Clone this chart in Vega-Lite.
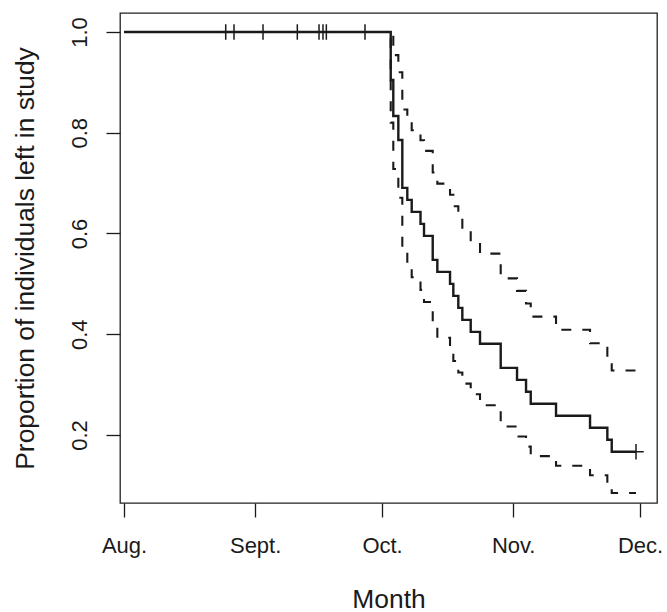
{
  "$schema": "https://vega.github.io/schema/vega-lite/v6.json",
  "width": 537,
  "height": 490,
  "autosize": {"type": "none"},
  "padding": {"left": 120, "top": 13, "right": 10, "bottom": 109},
  "background": "white",
  "datasets": {
    "curves": [
      {"series": "est", "day": 0, "value": 1},
      {"series": "est", "day": 63.05, "value": 0.9048},
      {"series": "est", "day": 63.66, "value": 0.8333},
      {"series": "est", "day": 64.85, "value": 0.7857},
      {"series": "est", "day": 65.79, "value": 0.6905},
      {"series": "est", "day": 66.97, "value": 0.6667},
      {"series": "est", "day": 68.01, "value": 0.6429},
      {"series": "est", "day": 70.09, "value": 0.619},
      {"series": "est", "day": 70.92, "value": 0.5952},
      {"series": "est", "day": 72.98, "value": 0.5476},
      {"series": "est", "day": 74.07, "value": 0.5238},
      {"series": "est", "day": 77.07, "value": 0.5},
      {"series": "est", "day": 77.85, "value": 0.4762},
      {"series": "est", "day": 79.03, "value": 0.4524},
      {"series": "est", "day": 79.98, "value": 0.4286},
      {"series": "est", "day": 81.96, "value": 0.4048},
      {"series": "est", "day": 84.16, "value": 0.381},
      {"series": "est", "day": 89.05, "value": 0.3333},
      {"series": "est", "day": 92.91, "value": 0.3095},
      {"series": "est", "day": 95.04, "value": 0.2857},
      {"series": "est", "day": 96.15, "value": 0.2619},
      {"series": "est", "day": 102.13, "value": 0.2381},
      {"series": "est", "day": 110.17, "value": 0.2143},
      {"series": "est", "day": 114.26, "value": 0.1905},
      {"series": "est", "day": 115.3, "value": 0.1667},
      {"series": "est", "day": 121.04, "value": 0.1667},
      {"series": "upper", "day": 0, "value": 1},
      {"series": "upper", "day": 63.05, "value": 0.998},
      {"series": "upper", "day": 63.66, "value": 0.954},
      {"series": "upper", "day": 64.85, "value": 0.92},
      {"series": "upper", "day": 65.79, "value": 0.846},
      {"series": "upper", "day": 66.97, "value": 0.826},
      {"series": "upper", "day": 68.01, "value": 0.805},
      {"series": "upper", "day": 70.09, "value": 0.785},
      {"series": "upper", "day": 70.92, "value": 0.764},
      {"series": "upper", "day": 72.98, "value": 0.721},
      {"series": "upper", "day": 74.07, "value": 0.699},
      {"series": "upper", "day": 77.07, "value": 0.677},
      {"series": "upper", "day": 77.85, "value": 0.654},
      {"series": "upper", "day": 79.03, "value": 0.631},
      {"series": "upper", "day": 79.98, "value": 0.608},
      {"series": "upper", "day": 81.96, "value": 0.584},
      {"series": "upper", "day": 84.16, "value": 0.56},
      {"series": "upper", "day": 89.05, "value": 0.511},
      {"series": "upper", "day": 92.91, "value": 0.486},
      {"series": "upper", "day": 95.04, "value": 0.461},
      {"series": "upper", "day": 96.15, "value": 0.435},
      {"series": "upper", "day": 102.13, "value": 0.409},
      {"series": "upper", "day": 110.17, "value": 0.382},
      {"series": "upper", "day": 114.26, "value": 0.355},
      {"series": "upper", "day": 115.3, "value": 0.328},
      {"series": "upper", "day": 121.04, "value": 0.328},
      {"series": "lower", "day": 0, "value": 1},
      {"series": "lower", "day": 63.05, "value": 0.82},
      {"series": "lower", "day": 63.66, "value": 0.728},
      {"series": "lower", "day": 64.85, "value": 0.671},
      {"series": "lower", "day": 65.79, "value": 0.564},
      {"series": "lower", "day": 66.97, "value": 0.538},
      {"series": "lower", "day": 68.01, "value": 0.513},
      {"series": "lower", "day": 70.09, "value": 0.488},
      {"series": "lower", "day": 70.92, "value": 0.464},
      {"series": "lower", "day": 72.98, "value": 0.416},
      {"series": "lower", "day": 74.07, "value": 0.393},
      {"series": "lower", "day": 77.07, "value": 0.37},
      {"series": "lower", "day": 77.85, "value": 0.347},
      {"series": "lower", "day": 79.03, "value": 0.324},
      {"series": "lower", "day": 79.98, "value": 0.302},
      {"series": "lower", "day": 81.96, "value": 0.281},
      {"series": "lower", "day": 84.16, "value": 0.259},
      {"series": "lower", "day": 89.05, "value": 0.217},
      {"series": "lower", "day": 92.91, "value": 0.197},
      {"series": "lower", "day": 95.04, "value": 0.177},
      {"series": "lower", "day": 96.15, "value": 0.158},
      {"series": "lower", "day": 102.13, "value": 0.139},
      {"series": "lower", "day": 110.17, "value": 0.12},
      {"series": "lower", "day": 114.26, "value": 0.102},
      {"series": "lower", "day": 115.3, "value": 0.085},
      {"series": "lower", "day": 121.04, "value": 0.085}
    ],
    "censor": [
      {"day": 24.04, "value": 1},
      {"day": 26.0, "value": 1},
      {"day": 32.86, "value": 1},
      {"day": 40.97, "value": 1},
      {"day": 46.1, "value": 1},
      {"day": 47.04, "value": 1},
      {"day": 47.83, "value": 1},
      {"day": 56.97, "value": 1},
      {"day": 121.04, "value": 0.1667}
    ]
  },
  "layer": [
    {
      "data": {"name": "curves"},
      "transform": [{"filter": "datum.series !== 'est'"}],
      "mark": {"type": "line", "interpolate": "step-after", "stroke": "#1a1a1a", "strokeWidth": 2.1, "strokeDash": [10, 11]},
      "encoding": {
        "x": {
          "field": "day", "type": "quantitative",
          "scale": {"domain": [-0.95, 126], "nice": false, "zero": false},
          "axis": {
            "title": "Month",
            "values": [0, 31, 61, 92, 122],
            "labelExpr": "datum.value == 0 ? 'Aug.' : datum.value == 31 ? 'Sept.' : datum.value == 61 ? 'Oct.' : datum.value == 92 ? 'Nov.' : 'Dec.'",
            "labelBaseline": "middle",
            "labelPadding": 28,
            "labelFlush": false,
            "labelOverlap": false,
            "titleBaseline": "middle",
            "titleY": 96
          }
        },
        "y": {
          "field": "value", "type": "quantitative",
          "scale": {"domain": [0.065, 1.0377], "nice": false, "zero": false},
          "axis": {
            "title": "Proportion of individuals left in study",
            "values": [0.2, 0.4, 0.6, 0.8, 1.0],
            "format": ".1f",
            "labelAngle": -90,
            "labelAlign": "center",
            "labelBaseline": "middle",
            "labelPadding": 27,
            "labelFlush": false,
            "labelOverlap": false,
            "titleBaseline": "middle",
            "titleX": -95
          }
        },
        "detail": {"field": "series"}
      }
    },
    {
      "data": {"name": "curves"},
      "transform": [{"filter": "datum.series === 'est'"}],
      "mark": {"type": "line", "interpolate": "step-after", "stroke": "#1a1a1a", "strokeWidth": 2.4},
      "encoding": {
        "x": {"field": "day", "type": "quantitative"},
        "y": {"field": "value", "type": "quantitative"}
      }
    },
    {
      "data": {"name": "censor"},
      "mark": {"type": "point", "shape": "M-1,0L1,0M0,-1L0,1", "size": 240, "filled": false, "stroke": "#1a1a1a", "strokeWidth": 1.5, "opacity": 1},
      "encoding": {
        "x": {"field": "day", "type": "quantitative"},
        "y": {"field": "value", "type": "quantitative"}
      }
    }
  ],
  "config": {
    "view": {"stroke": "#222222", "strokeWidth": 1.3},
    "axis": {
      "grid": false,
      "domain": false,
      "ticks": true,
      "tickSize": 14,
      "tickWidth": 1.3,
      "tickColor": "#1a1a1a",
      "labelFont": "Liberation Sans",
      "titleFont": "Liberation Sans",
      "labelFontSize": 22,
      "titleFontSize": 26.4,
      "titleFontWeight": "normal",
      "labelColor": "#1a1a1a",
      "titleColor": "#1a1a1a"
    }
  }
}
